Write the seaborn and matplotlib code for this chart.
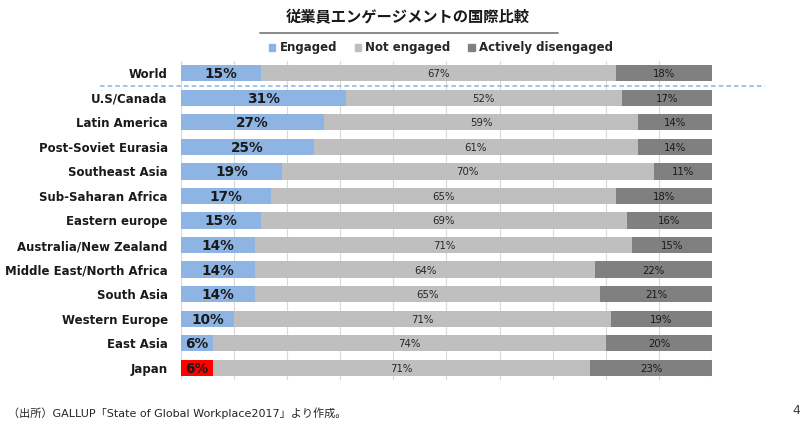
import numpy as np
import pandas as pd
import matplotlib
matplotlib.use("Agg")
import matplotlib.pyplot as plt
import matplotlib.transforms as mtransforms
from matplotlib.lines import Line2D
from matplotlib.patches import Patch
import seaborn as sns

# data
regions = ["World", "U.S/Canada", "Latin America", "Post-Soviet Eurasia", "Southeast Asia",
           "Sub-Saharan Africa", "Eastern europe", "Australia/New Zealand",
           "Middle East/North Africa", "South Asia", "Western Europe", "East Asia", "Japan"]
engaged = [15, 31, 27, 25, 19, 17, 15, 14, 14, 14, 10, 6, 6]
not_engaged = [67, 52, 59, 61, 70, 65, 69, 71, 64, 65, 71, 74, 71]
disengaged = [18, 17, 14, 14, 11, 18, 16, 15, 22, 21, 19, 20, 23]
series_names = ["Engaged", "Not engaged", "Actively disengaged"]

c_eng = "#8db4e2"
c_not = "#bfbfbf"
c_dis = "#808080"
c_japan = "#ff0000"

sns.set_theme(style="white")
plt.rcParams["font.family"] = ["DejaVu Sans", "Noto Sans CJK JP"]

df = pd.DataFrame({"region": regions, "engaged": engaged,
                   "not_engaged": not_engaged, "disengaged": disengaged})
df["cum2"] = df["engaged"] + df["not_engaged"]
df["cum3"] = df["cum2"] + df["disengaged"]

fig = plt.figure(figsize=(8, 4.24), dpi=100)
ax = fig.add_axes([181 / 800, 1 - 380 / 424, 531 / 800, 319 / 424])

# grid first so bars sit on top
for gx in range(0, 101, 10):
    ax.axvline(gx, color="#d9d9d9", lw=0.8, zorder=0)

# stacked bars: draw cumulative totals, largest first
sns.barplot(data=df, y="region", x="cum3", color=c_dis, orient="h", width=0.66,
            ax=ax, zorder=2, saturation=1, linewidth=0)
sns.barplot(data=df, y="region", x="cum2", color=c_not, orient="h", width=0.66,
            ax=ax, zorder=2, saturation=1, linewidth=0)
pal = {r: (c_japan if r == "Japan" else c_eng) for r in regions}
sns.barplot(data=df, y="region", x="engaged", hue="region", palette=pal, orient="h",
            width=0.66, ax=ax, zorder=2, saturation=1, legend=False, linewidth=0)

# segment labels
for i, row in df.iterrows():
    ax.text(row["engaged"] / 2, i + 0.04, f"{row['engaged']}%", ha="center", va="center",
            fontsize=9.8, fontweight="bold", color="#1a1a1a", zorder=5)
    ax.text(row["engaged"] + row["not_engaged"] / 2, i + 0.04, f"{row['not_engaged']}%",
            ha="center", va="center", fontsize=7.3, color="#262626", zorder=5)
    ax.text(row["cum2"] + row["disengaged"] / 2, i + 0.04, f"{row['disengaged']}%",
            ha="center", va="center", fontsize=7.3, color="#1a1a1a", zorder=5)

ax.set_xlim(0, 100)
ax.set_ylim(len(regions) - 0.5, -0.5)
ax.set_xlabel("")
ax.set_ylabel("")
ax.set_xticks([])
ax.tick_params(axis="y", length=0, pad=9.5)
for lab in ax.get_yticklabels():
    lab.set_fontweight("bold")
    lab.set_fontsize(8.5)
    lab.set_color("#1a1a1a")
sns.despine(ax=ax, left=True, bottom=True)

# dashed separator between World and the regions
trans = mtransforms.blended_transform_factory(fig.transFigure, ax.transData)
fig.lines.append(Line2D([100 / 800, 765 / 800], [0.5, 0.5], transform=trans,
                        color="#8db4e2", lw=1.1, ls=(0, (3, 2))))

# title with underline
fig.text(0.51, 1 - 18 / 424, "従業員エンゲージメントの国際比較", ha="center", va="center",
         fontsize=11, fontweight="bold", color="#1a1a1a")
fig.lines.append(Line2D([260 / 800, 558 / 800], [1 - 33 / 424] * 2,
                        transform=fig.transFigure, color="#7f7f7f", lw=1.3))

# legend
handles = [Patch(color=c) for c in [c_eng, c_not, c_dis]]
leg = fig.legend(handles, series_names, loc="center", bbox_to_anchor=(0.551, 1 - 48 / 424),
                 ncol=3, frameon=False, handlelength=0.55, handleheight=0.55,
                 handletextpad=0.35, columnspacing=1.5, prop={"weight": "bold", "size": 8.5})

# footnote and page number
fig.text(8 / 800, 1 - 413 / 424, "（出所）GALLUP「State of Global Workplace2017」より作成。",
         ha="left", va="center", fontsize=8, color="#262626")
fig.text(792 / 800, 1 - 410 / 424, "4", ha="left", va="center", fontsize=9, color="#404040")

fig.savefig("out.png", dpi=100)
